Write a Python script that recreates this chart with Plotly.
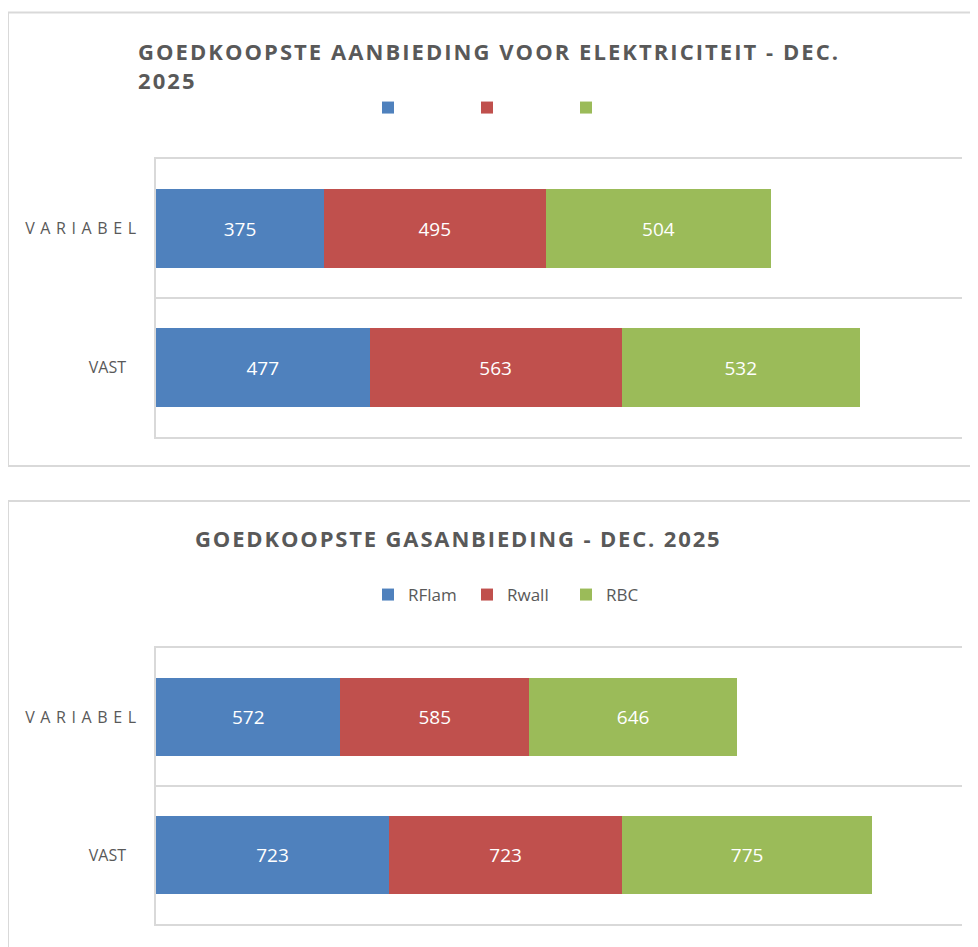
import plotly.graph_objects as go

# ---------------- data ----------------
categories = ["VARIABEL", "VAST"]
tick_labels = ['<span style="letter-spacing:5.6px">VARIABE</span><span style="letter-spacing:3px">L</span>',
               'VAS<span style="letter-spacing:13px">T</span>']
series_names = ["RFlam", "Rwall", "RBC"]
series_colors = ["#4f81bd", "#c0504d", "#9bbb59"]

elec_rflam = [375, 477]
elec_rwall = [495, 563]
elec_rbc = [504, 532]

gas_rflam = [572, 723]
gas_rwall = [585, 723]
gas_rbc = [646, 775]

elec_title_lines = ["GOEDKOOPSTE AANBIEDING VOOR ELEKTRICITEIT - DEC.", "2025"]
gas_title = "GOEDKOOPSTE GASANBIEDING - DEC. 2025"

W, H = 978, 947
OFF = 8  # page body margin
GRAY = "#595959"
LINE = "#d9d9d9"
FONT = "Open Sans"


def px(x):
    return (x - OFF) / W


def py(y):
    return (H - (y - OFF)) / H


def spaced_bold(s, ls):
    return '<span style="letter-spacing:%spx"><b>%s</b></span>' % (ls, s)


fig = go.Figure()

elec_series = [elec_rflam, elec_rwall, elec_rbc]
gas_series = [gas_rflam, gas_rwall, gas_rbc]

for vals, color in zip(elec_series, series_colors):
    fig.add_trace(go.Bar(
        x=vals, y=categories, orientation="h", name=" ",
        marker=dict(color=color, line=dict(width=0)),
        texttemplate="%{x}", textposition="inside", insidetextanchor="middle",
        textangle=0, textfont=dict(color="white", size=19, family=FONT),
        xaxis="x", yaxis="y", legend="legend2", hoverinfo="x+name",
    ))

for vals, name, color in zip(gas_series, series_names, series_colors):
    fig.add_trace(go.Bar(
        x=vals, y=categories, orientation="h", name=name,
        marker=dict(color=color, line=dict(width=0)),
        texttemplate="%{x}", textposition="inside", insidetextanchor="middle",
        textangle=0, textfont=dict(color="white", size=19, family=FONT),
        xaxis="x2", yaxis="y2", legend="legend", hoverinfo="x+name",
    ))

xcommon = dict(showticklabels=False, showgrid=False, zeroline=False,
               showline=True, mirror=True, linecolor=LINE, linewidth=1.5,
               ticks="", fixedrange=True)
ycommon = dict(type="category", categoryorder="array",
               categoryarray=categories[::-1], tickmode="array",
               tickvals=categories, ticktext=tick_labels,
               tickson="boundaries", showgrid=True, gridcolor=LINE,
               gridwidth=1.5, showline=True, linecolor=LINE, linewidth=1.5,
               ticks="", range=[-0.5, 1.5], zeroline=False,
               tickfont=dict(family=FONT, size=16, color=GRAY),
               ticklabelstandoff=12, fixedrange=True)

fig.update_layout(
    width=W, height=H,
    margin=dict(l=0, r=0, t=0, b=0),
    paper_bgcolor="white", plot_bgcolor="white",
    barmode="stack", bargap=0.435,
    showlegend=True,
    xaxis=dict(domain=[px(156), px(962)], range=[0, 1800], anchor="y", **xcommon),
    yaxis=dict(domain=[py(437), py(159)], anchor="x", **ycommon),
    xaxis2=dict(domain=[px(156), px(962)], range=[0, 2500], anchor="y2", **xcommon),
    yaxis2=dict(domain=[py(924), py(648)], anchor="x2", **ycommon),
    legend=dict(orientation="h", x=px(368), xanchor="left", y=py(595),
                yanchor="middle", entrywidth=54, traceorder="normal",
                font=dict(family=FONT, size=17, color=GRAY),
                bgcolor="rgba(0,0,0,0)"),
    legend2=dict(orientation="h", x=px(368), xanchor="left", y=py(108),
                 yanchor="middle", entrywidth=54, traceorder="normal",
                 font=dict(family=FONT, size=17, color=GRAY),
                 bgcolor="rgba(0,0,0,0)"),
    shapes=[
        dict(type="rect", xref="paper", yref="paper", x0=px(8), x1=1.05,
             y0=py(466), y1=py(12.5), line=dict(color=LINE, width=2),
             fillcolor="rgba(0,0,0,0)", layer="below"),
        dict(type="rect", xref="paper", yref="paper", x0=px(8), x1=1.05,
             y0=-0.05, y1=py(501), line=dict(color=LINE, width=2),
             fillcolor="rgba(0,0,0,0)", layer="below"),
    ],
    annotations=[
        dict(text="<br>".join(spaced_bold(s, 2.05) for s in elec_title_lines),
             xref="paper", yref="paper", x=px(136), y=py(34),
             xanchor="left", yanchor="top", align="left", showarrow=False,
             font=dict(family=FONT, size=22, color=GRAY)),
        dict(text=spaced_bold(gas_title, 1.85),
             xref="paper", yref="paper", x=px(193), y=py(521),
             xanchor="left", yanchor="top", align="left", showarrow=False,
             font=dict(family=FONT, size=22, color=GRAY)),
    ],
)

fig.write_html("out.html")
